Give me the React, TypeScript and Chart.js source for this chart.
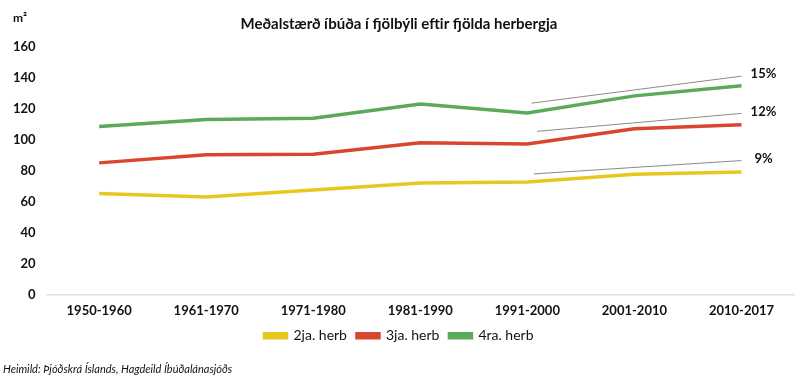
import React, { useEffect, useRef } from "react";
import { Chart, registerables } from "chart.js";

Chart.register(...registerables);

const categories = ["1950-1960", "1961-1970", "1971-1980", "1981-1990", "1991-2000", "2001-2010", "2010-2017"];
const seriesNames = ["2ja. herb", "3ja. herb", "4ra. herb"];
const series2ja = [65.5, 63.3, 67.8, 72.3, 73.0, 78.0, 79.5];
const series3ja = [85.3, 90.6, 90.8, 98.3, 97.5, 107.3, 109.8];
const series4ra = [108.7, 113.2, 114.0, 123.2, 117.5, 128.5, 135.0];
const trendStartX = [4.06, 4.09, 4.04];
const trendEndX = [6.0, 6.0, 6.0];
const trendStartY = [78.2, 105.6, 123.8];
const trendEndY = [86.8, 117.2, 141.2];
const trendLabels = ["9%", "12%", "15%"];
const yTicks = [0, 20, 40, 60, 80, 100, 120, 140, 160];
const unitLabel = "m²";
const titleText = "Meðalstærð íbúða í fjölbýli eftir fjölda herbergja";
const sourceText = "Heimild: Þjóðskrá Íslands, Hagdeild Íbúðalánasjóðs";

const colors = ["#E6C81F", "#D8462F", "#5BA95B"];
const FONT = "Lato, 'Open Sans', sans-serif";

export default function App() {
  const ref = useRef<HTMLCanvasElement | null>(null);

  useEffect(() => {
    document.body.style.margin = "0";
    const canvas = ref.current;
    if (!canvas) return;
    const all = [series2ja, series3ja, series4ra];

    const mainSets = all.map((vals, i) => ({
      label: seriesNames[i],
      data: vals.map((v, k) => ({ x: k, y: v })),
      borderColor: colors[i],
      backgroundColor: colors[i],
      borderWidth: 3.5,
      pointRadius: 0,
      tension: 0,
    }));
    const trendSets = trendStartX.map((sx, i) => ({
      label: "trend" + i,
      data: [
        { x: sx, y: trendStartY[i] },
        { x: trendEndX[i], y: trendEndY[i] },
      ],
      borderColor: "#8a8a8a",
      backgroundColor: "#8a8a8a",
      borderWidth: 1,
      pointRadius: 0,
      tension: 0,
    }));

    const extras = {
      id: "extras",
      afterDatasetsDraw(chart: any) {
        const ctx = chart.ctx;
        ctx.save();
        ctx.fillStyle = "#111";
        ctx.textAlign = "center";
        ctx.textBaseline = "middle";
        ctx.font = "bold 13px " + FONT;
        trendLabels.forEach((t, i) => {
          const meta = chart.getDatasetMeta(3 + i);
          const pt = meta.data[meta.data.length - 1];
          ctx.fillText(t, pt.x + 22, pt.y - 2);
        });
        const ys = chart.scales.y;
        ctx.font = "bold 12px " + FONT;
        ctx.fillText(unitLabel, ys.left + 17, chart.chartArea.top - 29);
        ctx.restore();
      },
    };

    const chart = new Chart(canvas, {
      type: "line",
      data: { datasets: [...mainSets, ...trendSets] as any },
      plugins: [extras],
      options: {
        animation: false,
        responsive: false,
        layout: { padding: { left: 3, right: 5, top: 13, bottom: 6 } },
        plugins: {
          title: {
            display: true,
            text: titleText,
            color: "#111",
            font: { family: FONT, size: 15, weight: "bold" },
            padding: { top: 2, bottom: 14 },
          },
          subtitle: {
            display: true,
            text: sourceText,
            position: "bottom",
            align: "start",
            color: "#111",
            font: { family: FONT, size: 11, style: "italic" },
            padding: { top: 10, bottom: 0 },
          },
          legend: {
            position: "bottom",
            labels: {
              filter: (item: any) => item.datasetIndex < 3,
              boxWidth: 22,
              boxHeight: 4,
              color: "#111",
              font: { family: FONT, size: 14 },
              padding: 10,
            },
          },
          tooltip: { enabled: false },
        },
        scales: {
          x: {
            type: "linear",
            min: -0.5,
            max: 6.5,
            afterBuildTicks: (axis: any) => {
              axis.ticks = categories.map((_, i) => ({ value: i }));
            },
            afterFit: (axis: any) => {
              axis.height -= 8;
            },
            ticks: {
              callback: (v: any) => categories[v] ?? "",
              color: "#111",
              font: { family: FONT, size: 13, weight: "bold" },
              padding: 8,
              maxRotation: 0,
            },
            grid: { display: false, drawTicks: false },
            border: { display: false },
          },
          y: {
            min: 0,
            max: 160,
            afterBuildTicks: (axis: any) => {
              axis.ticks = yTicks.map((v) => ({ value: v }));
            },
            ticks: {
              color: "#111",
              font: { family: FONT, size: 13, weight: "bold" },
              padding: 10,
            },
            grid: {
              color: (c: any) => (c.tick && c.tick.value === 0 ? "#e2e2e2" : "transparent"),
              lineWidth: 1.5,
              drawTicks: false,
            },
            border: { display: false },
          },
        },
      } as any,
    });
    return () => chart.destroy();
  }, []);

  return (
    <div style={{ width: 800, height: 382 }}>
      <canvas ref={ref} width={800} height={382} />
    </div>
  );
}
